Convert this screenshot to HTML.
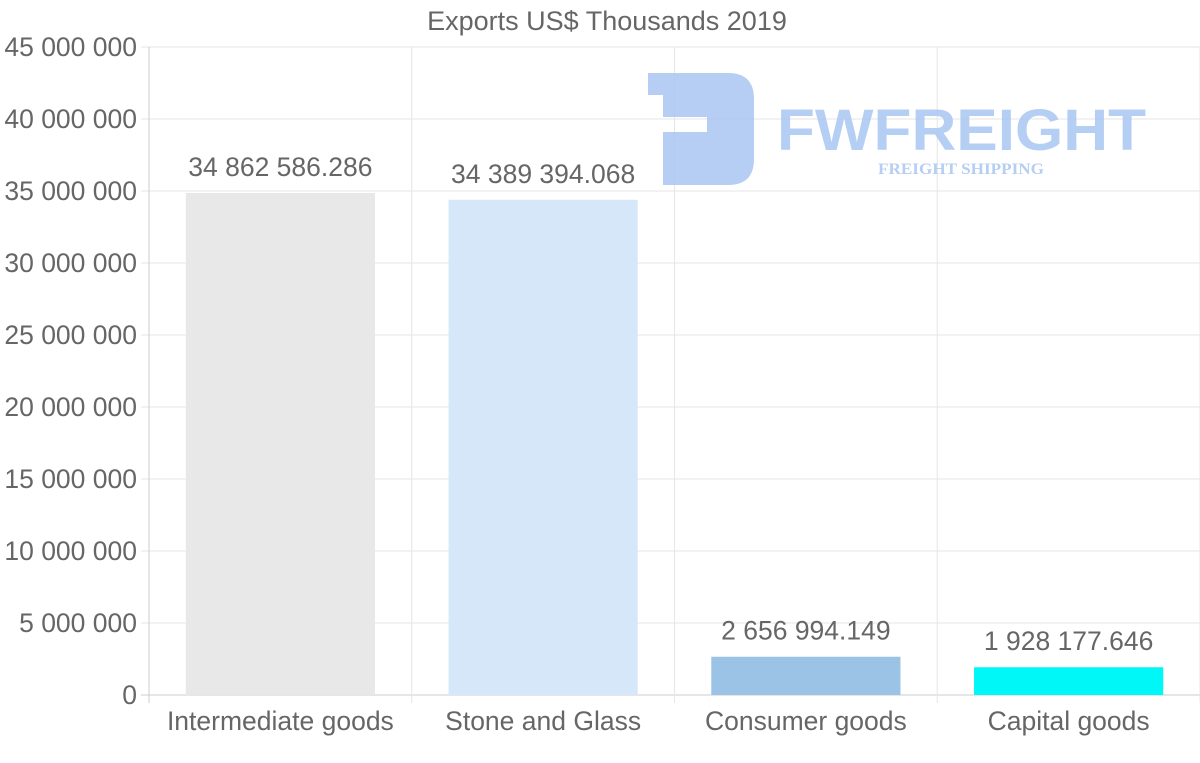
<!DOCTYPE html>
<html><head><meta charset="utf-8"><style>
body{margin:0;background:#fff;}
svg{display:block;font-family:"Liberation Sans",sans-serif;}
</style></head><body>
<svg id="chart" width="1200" height="763">
<text x="607" y="30" text-anchor="middle" font-size="27" fill="#666">Exports US$ Thousands 2019</text>
<g id="grid"></g>
<g opacity="0.85">
<path d="M648,73 H728 Q754,73 754,99 V159 Q754,185 728,185 H663 V132 H707 V117 H663 V95 H648 Z" fill="#a9c6f2"/>
<text x="777" y="150" font-size="58" font-weight="bold" fill="#a9c6f2" textLength="369" lengthAdjust="spacingAndGlyphs">FWFREIGHT</text>
<text x="878" y="174" font-size="16" font-weight="bold" fill="#a9c6f2" font-family="Liberation Serif,serif" textLength="166" lengthAdjust="spacingAndGlyphs">FREIGHT SHIPPING</text>
</g>
<g id="bars"></g>
<g id="axes"></g>
</svg>
<script>
const categories=["Intermediate goods","Stone and Glass","Consumer goods","Capital goods"];
const values=[34862586.286,34389394.068,2656994.149,1928177.646];
const valueLabels=["34 862 586.286","34 389 394.068","2 656 994.149","1 928 177.646"];
const colors=["#e8e8e8","#d6e7f9","#9bc3e6","#00f7f7"];
const yTicks=[0,5000000,10000000,15000000,20000000,25000000,30000000,35000000,40000000,45000000];
const yTickLabels=["0","5 000 000","10 000 000","15 000 000","20 000 000","25 000 000","30 000 000","35 000 000","40 000 000","45 000 000"];
const NS="http://www.w3.org/2000/svg";
const L=149,R=1200,T=47,B=695,yMax=45000000;
const y=v=>B-(v/yMax)*(B-T);
const cw=(R-L)/categories.length;
const x=i=>L+cw*i;
function mk(tag,attrs,parent,txt){const e=document.createElementNS(NS,tag);for(const k in attrs)e.setAttribute(k,attrs[k]);if(txt!==undefined)e.textContent=txt;parent.appendChild(e);return e;}
const grid=document.getElementById('grid'),bars=document.getElementById('bars'),axes=document.getElementById('axes');
yTicks.forEach((t,i)=>{
 const g=mk('line',{x1:L-8,x2:R,y1:y(t),y2:y(t),stroke:i===0?'#ccc':'#e6e6e6','stroke-width':1},grid);
 
 
 const lb=mk('text',{x:137,y:y(t)+9,'text-anchor':'end','font-size':26.5,fill:'#666'},axes,yTickLabels[i]);
 
 
});
for(let i=0;i<=categories.length;i++){
 const g=mk('line',{x1:x(i),x2:x(i),y1:T,y2:B+8,stroke:i===0?'#ccc':'#e6e6e6','stroke-width':1},grid);
 
 
}
const bw=cw*0.72;
categories.forEach((c,i)=>{
 const cx=x(i)+cw/2;
 const r=mk('rect',{x:cx-bw/2,y:y(values[i]),width:bw,height:B-y(values[i]),fill:colors[i]},bars);
 
 
 const v=mk('text',{x:cx,y:y(values[i])-17,'text-anchor':'middle','font-size':26.5,fill:'#666'},bars,valueLabels[i]);
 
 
 const lb=mk('text',{x:cx,y:730,'text-anchor':'middle','font-size':26.5,fill:'#666'},axes,c);
 
 
});
</script>
</body></html>
